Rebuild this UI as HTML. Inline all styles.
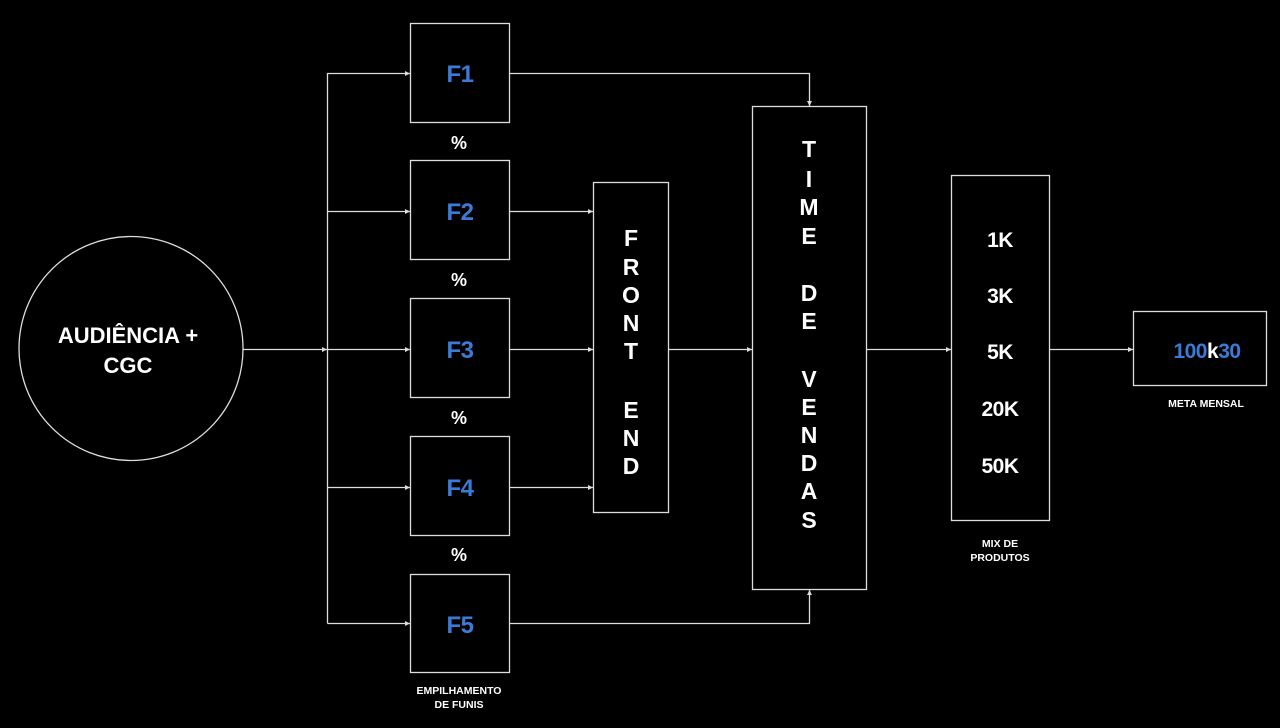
<!DOCTYPE html>
<html><head><meta charset="utf-8"><style>
html,body{margin:0;padding:0;background:#000;width:1280px;height:728px;overflow:hidden}
svg{display:block}
text{font-family:"Liberation Sans",Arial,sans-serif;font-weight:bold;fill:#fff;text-anchor:middle}
.b{fill:#3b7bd8}
</style></head><body>
<svg width="1280" height="728" viewBox="0 0 1280 728">
<defs><marker id="a" markerWidth="6" markerHeight="6" refX="5" refY="3" orient="auto" markerUnits="userSpaceOnUse"><path d="M0,0.5 L5,3 L0,5.5z" fill="#ddd"/></marker></defs>
<g stroke="#ddd" stroke-width="1.3" fill="none">
<circle cx="131" cy="348.5" r="112"/>
<rect x="410.5" y="23.5" width="99" height="99"/>
<rect x="410.5" y="160.5" width="99" height="99"/>
<rect x="410.5" y="298.5" width="99" height="99"/>
<rect x="410.5" y="436.5" width="99" height="99"/>
<rect x="410.5" y="574.5" width="99" height="98"/>
<rect x="593.5" y="182.5" width="75" height="330"/>
<rect x="752.5" y="106.5" width="114" height="483"/>
<rect x="951.5" y="175.5" width="98" height="345"/>
<rect x="1133.5" y="311.5" width="133" height="74"/>
<path d="M327.5,73 V623.5"/>
<path d="M243,349.5 H327" marker-end="url(#a)"/>
<path d="M327.5,73.5 H410" marker-end="url(#a)"/>
<path d="M327.5,211.5 H410" marker-end="url(#a)"/>
<path d="M327.5,349.5 H410" marker-end="url(#a)"/>
<path d="M327.5,487.5 H410" marker-end="url(#a)"/>
<path d="M327.5,623.5 H410" marker-end="url(#a)"/>
<path d="M510,73.5 H809.5 V106" marker-end="url(#a)"/>
<path d="M510,623.5 H809.5 V590" marker-end="url(#a)"/>
<path d="M510,211.5 H593" marker-end="url(#a)"/>
<path d="M510,349.5 H593" marker-end="url(#a)"/>
<path d="M510,487.5 H593" marker-end="url(#a)"/>
<path d="M669,349.5 H752" marker-end="url(#a)"/>
<path d="M867,349.5 H951" marker-end="url(#a)"/>
<path d="M1050,349.5 H1133" marker-end="url(#a)"/>
</g>
<text x="128" y="343" font-size="22">AUDIÊNCIA +</text>
<text x="128" y="373" font-size="22">CGC</text>
<g font-size="24" letter-spacing="-0.5">
<text class="b" x="460" y="82">F1</text>
<text class="b" x="460" y="220">F2</text>
<text class="b" x="460" y="358">F3</text>
<text class="b" x="460" y="496">F4</text>
<text class="b" x="460" y="633">F5</text>
</g>
<g font-size="18">
<text x="459" y="149">%</text><text x="459" y="286">%</text><text x="459" y="424">%</text><text x="459" y="561">%</text>
</g>
<g font-size="23">
<text x="631" y="246">F</text><text x="631" y="275">R</text><text x="631" y="303">O</text><text x="631" y="331">N</text><text x="631" y="359">T</text>
<text x="631" y="418">E</text><text x="631" y="446">N</text><text x="631" y="474">D</text>
</g>
<g font-size="23">
<text x="809" y="157">T</text><text x="809" y="187">I</text><text x="809" y="215">M</text><text x="809" y="244">E</text>
<text x="809" y="301">D</text><text x="809" y="329">E</text>
<text x="809" y="387">V</text><text x="809" y="415">E</text><text x="809" y="443">N</text><text x="809" y="471">D</text><text x="809" y="499">A</text><text x="809" y="528">S</text>
</g>
<g font-size="21" letter-spacing="-0.5">
<text x="1000" y="247">1K</text><text x="1000" y="303">3K</text><text x="1000" y="359">5K</text><text x="1000" y="416">20K</text><text x="1000" y="473">50K</text>
</g>
<text x="1207" y="358" font-size="21" letter-spacing="-0.5"><tspan class="b">100</tspan><tspan>k</tspan><tspan class="b">30</tspan></text>
<g font-size="10.5">
<text x="1000" y="547">MIX DE</text><text x="1000" y="561">PRODUTOS</text>
<text x="1206" y="407">META MENSAL</text>
<text x="459" y="694">EMPILHAMENTO</text><text x="459" y="708">DE FUNIS</text>
</g>
</svg>
</body></html>
